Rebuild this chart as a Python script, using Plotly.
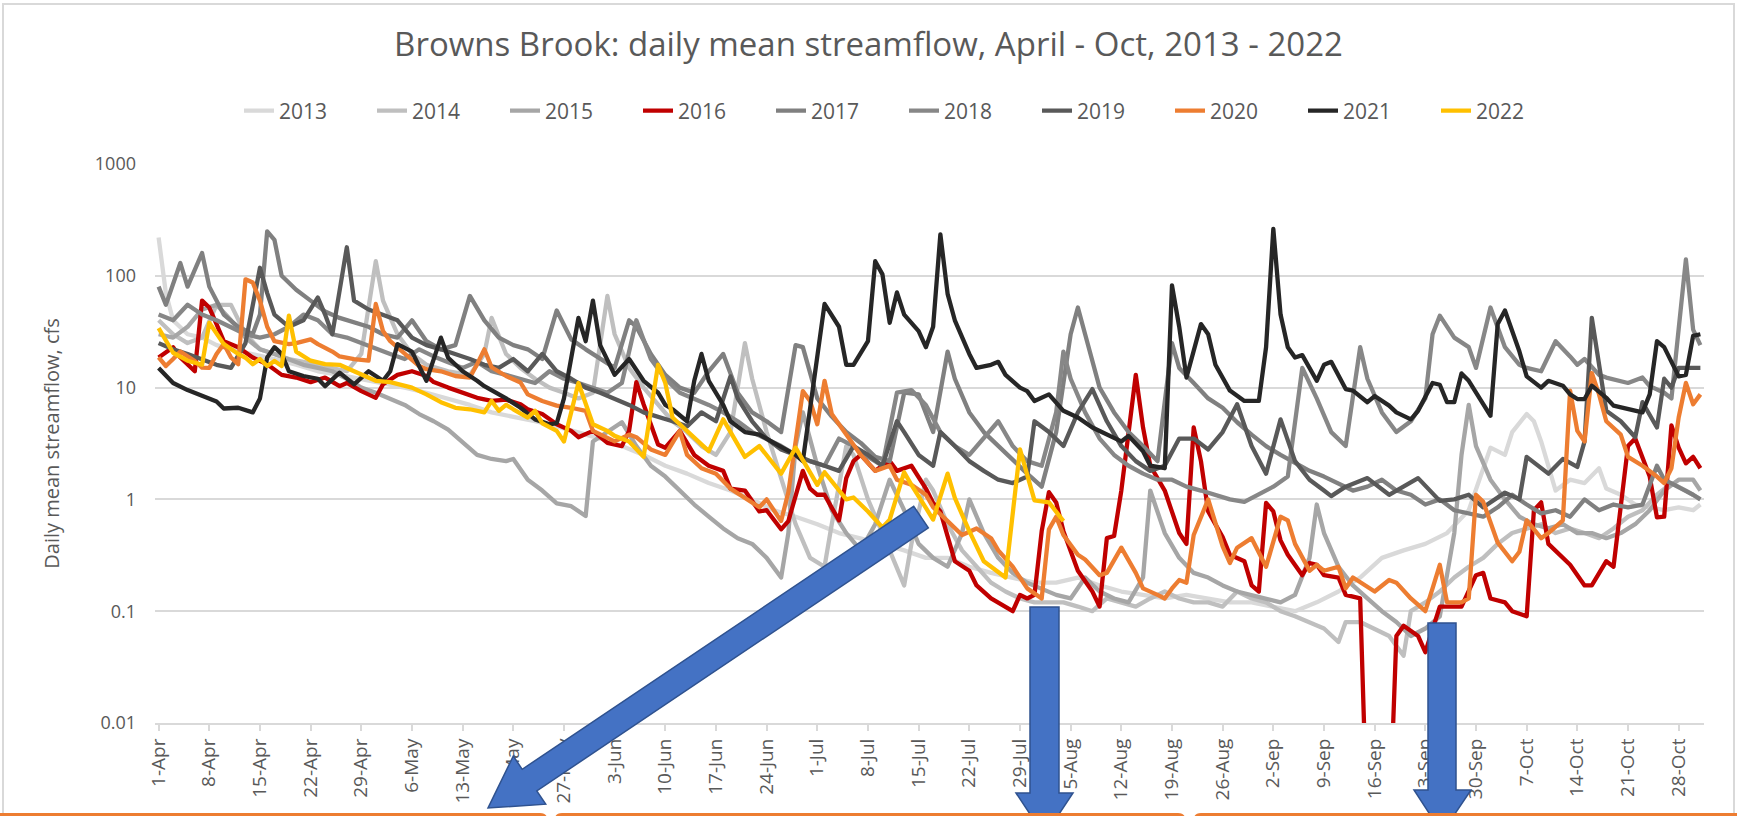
import pandas as pd
import plotly.graph_objects as go

# ---------------- data (day offset from 1-Apr, daily mean flow in cfs) ----------------
days_2013 = [0,1,2,4,6,8,10,13,16,19,22,25,28,31,34,37,40,43,46,49,52,55,58,61,64,67,70,73,76,79,82,85,88,91,94,97,100,103,106,109,112,115,118,121,124,127,130,133,136,139,142,145,148,151,154,157,160,163,166,169,172,175,178,181,184,186,187,189,190,191,193,195,197,199,200,202,204,206,208,210,212,213]
flow_2013 = [220,70,40,30,28,24,22,20,18,16,14,13,12,11,10,9,8,7,6,5.5,5,4.5,4,3.5,3,2.5,2,1.7,1.4,1.2,1.0,0.8,0.7,0.6,0.5,0.45,0.4,0.35,0.3,0.3,0.25,0.22,0.2,0.18,0.18,0.2,0.17,0.15,0.14,0.13,0.14,0.13,0.12,0.12,0.11,0.1,0.12,0.15,0.2,0.3,0.35,0.4,0.5,0.8,2.9,2.5,4,5.8,5,3.3,1.2,1.5,1.4,1.9,1.25,1.1,0.9,0.85,0.8,0.85,0.8,0.9]

days_2014 = [0,2,4,6,8,10,12,14,16,18,20,22,24,26,28,30,31,33,35,37,40,43,45,46,48,50,52,54,56,58,60,62,63,65,67,69,71,73,75,77,79,81,82,84,86,88,90,92,93,95,96,98,100,102,103,104,106,107,109,111,113,115,117,119,121,123,125,127,129,131,133,135,137,139,141,143,145,147,149,151,153,155,157,159,161,163,164,166,168,170,172,173,175,177,179,181,183,185,187,189,191,193,195,197,199,201,203,205,207,209,211,213]
flow_2014 = [40,30,25,28,55,55,30,22,20,18,17,16,15,14,20,135,60,30,20,16,14,13,20,42,20,15,12,10,9,8,9,66,30,15,10,7,5,4,3,2.5,4,25,12,4,1.5,0.6,0.3,0.25,0.6,3,2.5,1.0,0.5,0.25,0.17,0.4,1.5,1.2,0.6,0.35,0.25,0.18,0.15,0.13,0.12,0.12,0.12,0.11,0.1,0.13,0.12,0.11,0.13,0.15,0.13,0.12,0.12,0.11,0.15,0.13,0.12,0.1,0.09,0.08,0.07,0.053,0.08,0.08,0.07,0.06,0.04,0.1,0.12,0.15,0.2,0.25,0.3,0.4,0.5,0.55,0.6,0.5,0.55,0.5,0.45,0.55,0.7,0.8,1.1,1.4,1.2,1.0]

days_2015 = [0,2,4,6,8,10,12,14,16,18,20,22,24,26,28,30,32,34,36,38,40,42,44,46,48,49,51,53,55,57,59,60,62,64,66,68,70,72,74,76,78,80,82,84,86,87,88,89,91,93,95,97,99,101,103,105,107,109,111,112,114,116,118,120,122,124,126,128,130,132,134,136,137,139,141,143,145,147,149,151,153,155,157,159,160,161,163,165,167,169,171,173,175,177,179,180,181,182,184,186,188,190,192,194,196,198,200,202,204,206,208,210,212,213]
flow_2015 = [30,28,35,50,55,40,28,22,20,18,16,15,14,12,10,9,8,7,5.8,5,4.2,3.2,2.5,2.3,2.2,2.3,1.5,1.2,0.92,0.87,0.71,3.3,4,4.9,3,2,1.6,1.2,0.9,0.7,0.55,0.45,0.4,0.3,0.2,0.5,3,6,2,0.8,0.5,0.35,0.6,1.5,0.8,0.4,0.3,0.25,0.5,1.0,0.5,0.3,0.22,0.18,0.16,0.14,0.13,0.2,0.15,0.13,0.12,0.2,1.2,0.5,0.3,0.22,0.2,0.17,0.15,0.14,0.13,0.12,0.14,0.3,0.9,0.5,0.25,0.17,0.13,0.1,0.08,0.06,0.07,0.09,0.5,2.5,7,3,1.5,1.0,0.7,0.6,0.55,0.6,0.5,0.5,0.45,0.5,0.6,0.8,1.2,1.5,1.5,1.2,1.2]

days_2016 = [0,2,3,5,6,7,8,9,11,13,15,17,19,21,23,25,26,28,30,31,33,35,37,38,40,42,44,46,48,50,51,53,55,57,58,60,62,64,65,66,67,69,70,72,74,76,78,79,81,83,84,86,87,89,90,91,92,93,94,95,96,97,99,100,101,102,104,106,107,108,109,110,112,113,115,116,118,119,120,121,122,123,124,125,126,127,129,130,131,132,133,134,135,136,137,139,140,141,142,143,144,145,147,148,150,151,152,153,154,155,156,158,159,160,161,163,164,166,167,170,171,172,174,175,177,180,182,183,184,186,187,189,190,191,192,194,195,197,198,200,201,203,204,206,207,208,209,210,211,212,213]
flow_2016 = [18.6,23,18.6,14,60,52,37,26,23,18.6,16.2,13,12.3,11.2,12.3,10.3,11,9.3,8.1,10.7,13,14,12.7,11.2,10,9.1,8.1,7.6,7.8,7.1,6.4,5.8,4.7,4.1,3.6,4.1,3.2,3.0,4.1,11.2,7.1,3.1,2.9,4.1,2.5,2.0,1.8,1.25,1.2,0.78,0.8,0.54,0.64,1.8,1.25,1.1,1.1,0.84,0.65,1.55,2.2,2.5,1.8,2.0,2.2,1.8,2.0,1.25,0.93,0.78,0.48,0.28,0.23,0.17,0.13,0.12,0.1,0.14,0.13,0.14,0.52,1.16,0.94,0.52,0.35,0.23,0.15,0.11,0.45,0.47,1.2,4.1,13,4.4,2.0,1.2,0.78,0.5,0.4,4.4,2.2,0.78,0.46,0.32,0.28,0.17,0.15,0.93,0.78,0.43,0.32,0.21,0.27,0.26,0.21,0.2,0.14,0.13,0.001,0.001,0.06,0.074,0.06,0.043,0.11,0.11,0.21,0.22,0.13,0.12,0.1,0.09,0.8,0.94,0.4,0.3,0.26,0.17,0.17,0.28,0.25,3.0,3.5,1.6,0.69,0.7,4.6,2.9,2.1,2.4,1.9]

days_2017 = [0,1,3,4,6,7,9,11,13,14,15,16,17,19,21,23,25,27,29,31,33,35,37,39,41,43,45,47,49,51,53,55,57,59,61,63,65,66,68,70,72,74,76,78,80,82,84,86,88,89,91,93,95,97,99,101,103,105,107,109,110,112,114,116,118,120,122,124,126,127,128,130,132,134,136,138,140,141,143,145,147,149,151,153,155,157,159,161,163,165,167,169,171,173,175,177,179,181,183,185,187,189,191,193,195,197,199,201,203,205,207,208,210,212,213]
flow_2017 = [80,55,130,80,160,80,45,35,30,45,250,210,100,75,60,48,42,38,35,30,28,40,26,22,24,66,40,28,24,22,18,49,27,22,18,15,40,35,20,13,10,9,14,20,9,6,5,4,24,23,8,5.5,4,3.2,2.4,2.2,9,8.7,4,21,12,6,4,3,2.2,1.7,1.3,4,30,52,30,10,6,4,3,2.2,25,15,11,8,6.6,4.9,3.8,3.0,2.5,2.1,1.8,1.6,1.4,1.2,1.3,1.5,1.2,1.1,0.9,1.0,0.8,0.75,0.7,0.85,1.1,0.9,0.75,0.8,0.7,1.0,0.8,0.9,0.85,0.9,2,1.5,1.3,1.1,1.0]

days_2018 = [0,2,4,6,8,10,12,14,16,18,20,22,24,26,28,30,32,34,36,38,40,42,44,46,48,50,52,54,56,58,60,62,64,66,68,70,72,74,76,78,80,82,84,86,88,90,92,94,96,98,100,102,104,106,108,110,112,114,116,118,120,122,124,125,126,128,130,132,134,136,138,140,142,144,146,148,150,152,154,156,158,160,162,164,166,167,169,171,173,175,176,177,179,181,182,184,186,188,189,191,193,195,196,197,199,200,203,205,206,208,209,211,212,213]
flow_2018 = [45,40,55,45,40,35,30,28,30,35,45,40,30,28,25,22,20,18,22,19,17,15,17,14,13,12,11,14,12,11,10,9,11,40,18,12,9,8,7,6,5,4,3.5,3,2.5,2.2,2,3.5,3,2.4,2.0,9,9.5,7,4,3,2.5,3.5,5,3,2.2,2,6,21,12,6,3.5,2.5,2.0,1.7,1.5,1.5,1.3,1.2,1.1,1.0,0.95,1.1,1.3,1.6,15,8,4,3,23,12,6,4,5,8,30,44,28,23,15,52,23,16,15,14,26,19,16,18,13,12.3,11,12.3,10.3,9,8,140,33,24]

days_2019 = [0,2,4,6,8,10,12,14,15,16,18,20,22,23,24,26,27,29,31,33,35,37,39,41,43,45,47,49,51,53,55,57,59,61,63,65,67,69,71,73,75,77,79,80,82,84,86,88,90,92,94,96,98,100,102,103,105,107,108,110,112,114,116,118,120,121,123,125,127,129,131,133,135,137,139,141,143,145,147,149,151,153,155,157,159,161,162,164,167,170,172,174,177,179,181,183,186,188,189,192,194,196,197,198,200,202,204,205,207,208,209,210,212,213]
flow_2019 = [25,22,20,18,16,15,25,118,70,45,35,40,64,45,30,180,60,50,45,40,28,24,22,20,18,16,15,18,14,20,14,12,10,9,8,7,6,5.5,5,4.5,6,5,12.6,8,5,3.5,2.8,2.5,2.2,2,1.8,3,2.5,2.0,5,4,2.5,2.0,4,3,2.2,1.8,1.5,1.4,1.6,5,4,3,6,9.7,5,3,2.2,1.8,2,3.5,3.5,2.8,4,7.1,3,1.7,5.2,2.2,1.5,1.2,1.07,1.3,1.55,1.1,1.3,1.55,0.97,1.0,1.1,0.85,1.15,1.0,2.4,1.7,2.3,1.95,3.3,42,6.2,5,3.6,7.4,4.4,12,10,15,15,15]

days_2020 = [0,1,2,3,5,6,7,8,9,10,11,12,13,14,15,16,18,19,21,22,24,25,27,29,30,31,32,34,36,37,39,41,43,44,45,46,48,50,51,53,55,57,59,60,63,65,66,68,70,72,73,75,77,79,81,83,84,86,87,88,89,90,91,92,93,95,97,99,100,101,102,104,106,107,109,111,113,115,116,118,120,122,123,124,125,127,128,130,131,133,135,136,138,139,140,141,142,143,145,147,148,149,151,153,155,156,157,159,160,161,163,164,165,168,170,171,173,175,176,177,178,180,181,182,183,185,187,188,189,191,192,194,195,196,197,198,199,200,202,203,205,206,207,208,209,210,211,212,213]
flow_2020 = [18.6,15.6,18,21,17.3,15.1,15,20,24.5,18.6,16.2,93,87,60,35,26,24.5,25,27,24.5,21,19,18,17.4,56,32,26,20,15.6,14.6,14,12.7,12.3,16.2,22,15.2,12.7,11.1,8.7,7.6,6.9,6.6,6.2,4.1,3.3,3.8,3.6,2.8,2.5,4.1,2.5,1.9,1.7,1.25,1.03,0.85,1.0,0.64,1.16,3.3,9.3,7.6,4.7,11.5,5.8,3.8,2.5,1.8,1.9,2.0,1.5,1.35,1.1,0.85,0.64,0.48,0.55,0.45,0.35,0.25,0.16,0.13,0.54,0.7,0.48,0.32,0.29,0.21,0.22,0.37,0.22,0.16,0.14,0.13,0.16,0.19,0.18,0.48,1.0,0.38,0.27,0.37,0.45,0.25,0.7,0.65,0.4,0.23,0.26,0.23,0.25,0.16,0.2,0.15,0.19,0.18,0.13,0.1,0.16,0.26,0.12,0.12,0.13,1.1,0.95,0.41,0.28,0.34,0.65,0.45,0.5,0.65,9.4,4.1,3.3,13.5,8.7,5.0,3.8,2.4,2.0,1.8,1.6,1.4,1.9,5.4,11,7.1,8.7]

days_2021 = [0,2,4,6,8,9,11,13,14,15,16,17,18,20,22,23,25,27,29,31,32,33,35,37,39,40,42,44,45,48,50,52,54,55,56,58,59,60,61,63,65,67,69,70,71,73,74,75,76,78,79,81,83,85,87,88,89,90,92,94,95,96,98,99,100,101,102,103,105,106,107,108,109,110,112,113,115,116,117,119,120,121,123,125,127,129,131,133,134,136,137,139,140,141,142,144,145,146,148,150,152,153,154,155,156,157,158,160,161,162,164,165,167,168,170,171,173,174,176,177,178,179,180,181,183,184,185,186,188,189,191,192,194,195,196,197,198,200,201,203,205,206,207,208,210,211,212,213]
flow_2021 = [15,11,9.5,8.5,7.5,6.5,6.6,6,8,18.6,23,20,14,12.7,12,10.3,13.6,10.7,14,11.5,14,24.5,21,11.5,28,18.5,14,11.5,10.3,8,6.6,5.2,4.7,4.8,8,42,26,60,24,13,18,11.5,9,7,6.4,5.0,11.5,20,11.5,7,5,4,3.8,3.2,2.7,2.5,2.2,6.6,56,35,16,16,26,135,103,38,71,45,32,23,35,235,69,40,20,15,16,17,13,10,9.3,7.6,8.7,6.2,5.4,4.4,3.8,3.3,3.7,2.7,2.0,1.9,82,35,12.3,37,30,16,9.4,7.6,7.6,23,263,45,23,18.6,19.5,11.5,16,17,9.7,9.4,7.4,8.4,6.9,6.0,5.2,6.2,11,10.6,7.4,7.4,13.4,11.5,7.1,5.6,37,49,21,12.6,10,11.5,10.4,8.7,7.9,7.9,10.4,8.1,6.9,6.5,6.0,8.7,26,23,12.6,13,29,30]

days_2022 = [0,1,2,4,6,7,9,11,12,13,14,15,16,17,18,19,21,23,25,27,30,32,35,37,39,41,43,45,46,47,48,49,51,52,53,55,56,58,60,62,63,65,67,69,70,71,73,76,78,81,83,86,88,91,92,95,96,98,100,101,103,104,106,107,109,110,112,114,117,119,121,123,125]
flow_2022 = [34,26,20.5,17.4,16,38,24.5,20,18.5,16.2,18,15.6,17.3,15.6,44,21,17.4,16.2,16,14,11.5,11.2,10,8.7,7.4,6.6,6.4,6.0,7.6,6.2,7,6.4,5.4,6.2,4.8,4.1,3.3,11,4.7,4.1,3.7,3.3,2.4,16,11,5.4,4.1,2.7,5.2,2.4,3.0,1.7,2.9,1.35,1.75,1.0,1.04,0.78,0.56,0.66,1.75,1.35,0.84,0.66,1.7,1.03,0.52,0.28,0.2,2.8,0.98,0.94,0.64]

years = ["2013", "2014", "2015", "2016", "2017", "2018", "2019", "2020", "2021", "2022"]
year_days = [days_2013, days_2014, days_2015, days_2016, days_2017, days_2018, days_2019, days_2020, days_2021, days_2022]
year_flows = [flow_2013, flow_2014, flow_2015, flow_2016, flow_2017, flow_2018, flow_2019, flow_2020, flow_2021, flow_2022]
year_colors = ["#D9D9D9", "#BFBFBF", "#A6A6A6", "#C00000", "#808080", "#878787", "#595959", "#ED7D31", "#262626", "#FFC000"]

y_tickvals = [0.01, 0.1, 1, 10, 100, 1000]
y_ticktext = ["0.01", "0.1", "1", "10", "100", "1000"]

TITLE = "Browns Brook: daily mean streamflow, April - Oct, 2013 - 2022"
Y_TITLE = "Daily mean streamflow, cfs"

# ---------------- geometry ----------------
W, H = 1737, 816
L, R, T, B = 155, 1704, 164, 723

def px(x):
    return (x - L) / (R - L)

def py(y):
    return (B - y) / (B - T)

base = pd.Timestamp("2001-04-01")

fig = go.Figure()
for yr, d, f, c in zip(years, year_days, year_flows, year_colors):
    x = base + pd.to_timedelta(d, unit="D")
    fig.add_trace(go.Scatter(x=x, y=f, mode="lines", name=yr,
                             line=dict(color=c, width=4.3), hoverinfo="skip"))

FONT = "Open Sans, Liberation Sans, sans-serif"
GREY = "#595959"

shapes = []
# chart frame
shapes.append(dict(type="rect", xref="paper", yref="paper", x0=px(3), x1=px(1734), y0=py(4), y1=py(900),
                   line=dict(color="#D9D9D9", width=2), fillcolor="rgba(0,0,0,0)", layer="below"))

def poly(points):
    return "M " + " L ".join(f"{px(a):.5f},{py(b):.5f}" for a, b in points) + " Z"

blue_fill = "#4472C4"
blue_line = "#2F528F"
arrow1 = [(928.3, 527.8), (536.8, 790.9), (545.7, 804.2), (488, 808), (513.3, 756.0), (522.2, 769.3), (913.7, 506.2)]
arrow2 = [(1030, 607), (1059, 607), (1059, 793), (1073, 793), (1044.5, 836), (1016, 793), (1030, 793)]
arrow3 = [(1428, 623), (1456, 623), (1456, 790), (1471, 790), (1442, 833), (1414, 790), (1428, 790)]
for a in (arrow1, arrow2, arrow3):
    shapes.append(dict(type="path", xref="paper", yref="paper", path=poly(a),
                       fillcolor=blue_fill, line=dict(color=blue_line, width=1.5), layer="above"))

def rbox(x0, x1, y0, r=6):
    return (f"M {px(x0):.5f},{py(y0 + 40):.5f} L {px(x0):.5f},{py(y0 + r):.5f} "
            f"Q {px(x0):.5f},{py(y0):.5f} {px(x0 + r):.5f},{py(y0):.5f} "
            f"L {px(x1 - r):.5f},{py(y0):.5f} Q {px(x1):.5f},{py(y0):.5f} {px(x1):.5f},{py(y0 + r):.5f} "
            f"L {px(x1):.5f},{py(y0 + 40):.5f}")

for x0, x1 in [(-20, 546), (556, 1184), (1195, 1760)]:
    shapes.append(dict(type="path", xref="paper", yref="paper", path=rbox(x0, x1, 814.5),
                       line=dict(color="#ED7D31", width=3), fillcolor="rgba(0,0,0,0)", layer="above"))

fig.update_layout(
    width=W, height=H,
    margin=dict(l=L, r=W - R, t=T, b=H - B, autoexpand=False),
    paper_bgcolor="white", plot_bgcolor="white",
    font=dict(family=FONT, color=GREY),
    title=dict(text=TITLE, x=0.5, xref="container", xanchor="center", y=1 - 44 / H, yanchor="middle",
               font=dict(family=FONT, size=33, color=GREY)),
    legend=dict(orientation="h", x=px(904), xanchor="center", y=1 + (T - 111) / (B - T), yanchor="middle",
                font=dict(family=FONT, size=21, color=GREY), entrywidth=88, entrywidthmode="pixels",
                bgcolor="rgba(0,0,0,0)", itemclick=False),
    showlegend=True,
    shapes=shapes,
)

fig.update_xaxes(
    type="date",
    range=[base - pd.Timedelta(hours=12), base + pd.Timedelta(days=213, hours=12)],
    tick0=base, dtick=7 * 86400000, tickformat="%-d-%b", tickangle=-90,
    tickfont=dict(family=FONT, size=19, color=GREY),
    showgrid=False, showline=True, linecolor="#D9D9D9", linewidth=2,
    ticks="outside", ticklen=6, tickcolor="#D9D9D9", tickwidth=1.5,
    zeroline=False, automargin=False,
)
fig.update_yaxes(
    type="log", range=[-2, 3],
    tickvals=y_tickvals, ticktext=y_ticktext,
    tickfont=dict(family=FONT, size=18, color=GREY),
    showgrid=True, gridcolor="#D9D9D9", gridwidth=2,
    showline=False, zeroline=False, ticks="", ticklabelstandoff=18,
    title=dict(text=Y_TITLE, font=dict(family=FONT, size=20, color=GREY), standoff=29),
    automargin=False,
)

post = ("document.body.style.margin='0px';document.body.style.overflow='hidden';"
        "document.querySelectorAll('.scatterlayer path.js-line').forEach(function(p){p.style.strokeLinejoin='round';});")
fig.write_html("out.html", post_script=post, config={"displayModeBar": False})
